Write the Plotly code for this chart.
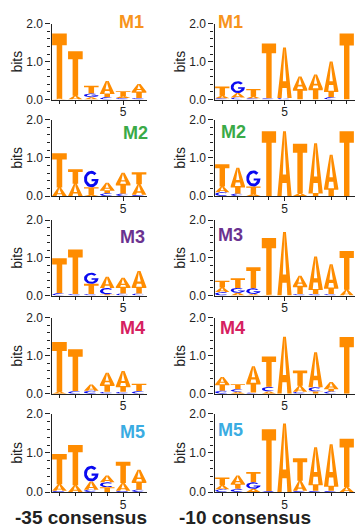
import numpy as np
import plotly.graph_objects as go
from plotly.subplots import make_subplots

# ---------------- data ----------------
motifs = ["M1", "M2", "M3", "M4", "M5"]
motif_colors = ["#F7941D", "#3AAA48", "#6B3290", "#D6205F", "#3AACE2"]
consensus_labels = ["-35 consensus", "-10 consensus"]
y_title = "bits"
x_tick_vals = [5]
x_tick_text = ["5"]
y_tick_vals = [0, 1, 2]
y_tick_text = ["0.0", "1.0", "2.0"]

# -35 region, 6 positions (bits per letter)
m1_35 = dict(A=[0.02, 0.10, 0.06, 0.33, 0.05, 0.20], C=[0, 0, 0, 0.06, 0.04, 0.04],
             G=[0, 0, 0.10, 0, 0, 0], T=[1.72, 1.17, 0.20, 0.10, 0.13, 0.17])
m2_35 = dict(A=[0.22, 0.32, 0.03, 0.20, 0.29, 0.28], C=[0, 0, 0, 0.07, 0.06, 0.03],
             G=[0, 0, 0.43, 0, 0, 0], T=[0.90, 0.38, 0.20, 0.08, 0.26, 0.31])
m3_35 = dict(A=[0, 0, 0, 0.30, 0.24, 0.42], C=[0.06, 0.04, 0.04, 0.17, 0.05, 0.05],
             G=[0, 0, 0.29, 0, 0, 0], T=[0.93, 1.18, 0.27, 0.03, 0.18, 0.18])
m4_35 = dict(A=[0.05, 0, 0.16, 0.31, 0.40, 0], C=[0, 0.07, 0.08, 0.05, 0.05, 0.07],
             G=[0, 0, 0, 0, 0, 0], T=[1.31, 1.10, 0, 0.19, 0.15, 0.19])
m5_35 = dict(A=[0.17, 0.17, 0.21, 0.17, 0.20, 0.30], C=[0.03, 0, 0.06, 0.13, 0.03, 0.06],
             G=[0, 0, 0.40, 0, 0, 0], T=[0.77, 1.03, 0, 0.12, 0.54, 0.21])

# -10 region, 9 positions (bits per letter)
m1_10 = dict(A=[0.07, 0.12, 0.05, 0, 1.33, 0.33, 0.36, 0.77, 0],
             C=[0.03, 0.05, 0.03, 0.03, 0.04, 0, 0, 0.06, 0],
             G=[0, 0.31, 0, 0, 0, 0, 0, 0, 0],
             T=[0.24, 0, 0.20, 1.45, 0, 0.28, 0.30, 0.17, 1.74])
m2_10 = dict(A=[0.15, 0.48, 0.05, 0, 1.70, 0.07, 1.30, 0.88, 0],
             C=[0.10, 0.06, 0, 0, 0, 0, 0, 0, 0],
             G=[0, 0, 0.42, 0, 0, 0, 0, 0, 0],
             T=[0.58, 0.20, 0.20, 1.70, 0, 1.30, 0.08, 0.20, 1.70])
m3_10 = dict(A=[0.12, 0.07, 0.04, 0.02, 1.68, 0.26, 0.86, 0.62, 0.15],
             C=[0.09, 0, 0, 0, 0, 0.04, 0.04, 0.04, 0],
             G=[0, 0.13, 0.15, 0, 0, 0, 0, 0, 0],
             T=[0.18, 0.26, 0.56, 1.50, 0, 0.22, 0.13, 0.17, 1.03])
m4_10 = dict(A=[0.19, 0.05, 0.43, 0.06, 1.50, 0.16, 0.92, 0.18, 0],
             C=[0.08, 0.07, 0.03, 0.12, 0, 0.05, 0.11, 0.06, 0],
             G=[0, 0, 0, 0, 0, 0, 0, 0, 0],
             T=[0.17, 0.13, 0.26, 0.80, 0, 0.40, 0.06, 0.07, 1.49])
m5_10 = dict(A=[0.10, 0.21, 0.08, 0, 1.75, 0.26, 0.94, 1.06, 0.13],
             C=[0.07, 0.08, 0, 0.02, 0, 0.03, 0.03, 0.03, 0],
             G=[0, 0, 0.17, 0, 0, 0, 0, 0, 0],
             T=[0.20, 0.13, 0.26, 1.58, 0, 0.57, 0.17, 0.13, 1.23])

panels_35 = [m1_35, m2_35, m3_35, m4_35, m5_35]
panels_10 = [m1_10, m2_10, m3_10, m4_10, m5_10]

# ---------------- styles ----------------
ORANGE = "#FF8C00"
BLUE = "#0A0AF0"
letter_color = {"A": ORANGE, "T": ORANGE, "C": BLUE, "G": BLUE}
AXIS = "#222222"
FONT = "Liberation Sans, Arial, sans-serif"
W, H = 358, 530


def arc(rx, ry, a0, a1, n=24):
    t = np.radians(np.linspace(a0, a1, n))
    return [(0.5 + rx * np.cos(a), 0.5 + ry * np.sin(a)) for a in t]


GLYPHS = {
    "T": [(0, 1), (0, 0.82), (0.31, 0.82), (0.31, 0), (0.69, 0), (0.69, 0.82), (1, 0.82), (1, 1)],
    "A": [(0, 0), (0.3, 0), (0.35, 0.2), (0.65, 0.2), (0.7, 0), (1, 0), (0.6, 1), (0.5, 1),
          (0.5, 0.8), (0.6175, 0.33), (0.3825, 0.33), (0.5, 0.8), (0.5, 1), (0.4, 1)],
    "C": arc(0.5, 0.5, 45, 315) + arc(0.3, 0.32, 315, 45),
}
_ang = np.degrees(np.arcsin(-0.13 / 0.32))  # inner ellipse angle at bar bottom
GLYPHS["G"] = (arc(0.5, 0.5, 45, 360) + [(0.52, 0.5), (0.52, 0.37)]
               + arc(0.3, 0.32, 360 + _ang, 45))

# ---------------- figure ----------------
fig = make_subplots(rows=5, cols=2, horizontal_spacing=0.05, vertical_spacing=0.03)

x_px = [(51.5, 147), (214.5, 354.5)]
rows_px = [(23.7, 99.5), (119.7, 196), (220, 295.5), (317.7, 393.7), (413.7, 492)]

LW = 0.92  # letter width in position units


def add_logo(panel, row, col):
    n = len(panel["A"])
    xs = {ORANGE: [], BLUE: []}
    ys = {ORANGE: [], BLUE: []}
    for i in range(n):
        pos = i + 1
        stack = sorted([(panel[l][i], l) for l in "ACGT"], key=lambda t: t[0])
        base = 0.0
        for h, l in stack:
            if h <= 0.005:
                continue
            c = letter_color[l]
            for (u, v) in GLYPHS[l]:
                xs[c].append(pos - LW / 2 + LW * u)
                ys[c].append(base + h * v)
            xs[c].append(None)
            ys[c].append(None)
            base += h
    for c in (ORANGE, BLUE):
        fig.add_trace(go.Scatter(x=xs[c], y=ys[c], mode="lines", fill="toself",
                                 fillcolor=c, line=dict(width=0, color=c),
                                 hoverinfo="skip", showlegend=False),
                      row=row, col=col)
    return n


for r in range(5):
    for c, panels in enumerate([panels_35, panels_10]):
        n = add_logo(panels[r], r + 1, c + 1)
        top, bot = rows_px[r]
        x0, x1 = x_px[c]
        fig.update_xaxes(domain=[x0 / W, x1 / W], range=[0.5, n + 0.5], automargin=False,
                         tickvals=x_tick_vals, ticktext=x_tick_text,
                         ticks="outside", ticklen=4, tickwidth=1, tickcolor=AXIS,
                         ticklabelstandoff=-3,
                         minor=dict(tickvals=list(range(1, n + 1)), ticks="outside",
                                    ticklen=3, tickwidth=1, tickcolor=AXIS, showgrid=False),
                         showline=True, linecolor=AXIS, linewidth=1.3,
                         showgrid=False, zeroline=False,
                         tickfont=dict(family=FONT, size=12, color=AXIS),
                         row=r + 1, col=c + 1)
        fig.update_yaxes(domain=[1 - bot / H, 1 - top / H], range=[0, 2], automargin=False,
                         tickvals=y_tick_vals, ticktext=y_tick_text,
                         ticks="outside", ticklen=5, tickwidth=1, tickcolor=AXIS,
                         minor=dict(dtick=0.2, ticks="outside", ticklen=3, tickwidth=1,
                                    tickcolor=AXIS, showgrid=False),
                         showline=True, linecolor=AXIS, linewidth=1.3,
                         showgrid=False, zeroline=False,
                         tickfont=dict(family=FONT, size=12, color=AXIS),
                         row=r + 1, col=c + 1)
        fig.add_annotation(x=(x0 - 34.5) / W, y=1 - (top + bot) / 2 / H,
                           xref="paper", yref="paper", text=y_title, textangle=-90,
                           showarrow=False, xanchor="center", yanchor="middle",
                           font=dict(family=FONT, size=14, color=AXIS))

title_px = [[(131, 22), (135, 133), (132, 237), (132, 328), (132, 432)],
            [(230, 22), (233, 132), (230, 235), (232, 328), (230, 430)]]
for c in range(2):
    for r in range(5):
        x, y = title_px[c][r]
        fig.add_annotation(x=x / W, y=1 - y / H, xref="paper", yref="paper",
                           text="<b>%s</b>" % motifs[r], showarrow=False,
                           xanchor="center", yanchor="middle",
                           font=dict(family=FONT, size=18, color=motif_colors[r]))

for (x, y), txt in zip([(81, 517.5), (245, 517.5)], consensus_labels):
    fig.add_annotation(x=x / W, y=1 - y / H, xref="paper", yref="paper",
                       text="<b>%s</b>" % txt, showarrow=False,
                       xanchor="center", yanchor="middle",
                       font=dict(family=FONT, size=19, color=AXIS))

fig.update_layout(width=W, height=H, margin=dict(l=0, r=0, t=0, b=0),
                  paper_bgcolor="white", plot_bgcolor="white", showlegend=False)

fig.write_html("out.html", config={"displayModeBar": False},
               post_script="document.body.style.margin='0';document.body.style.padding='0';")
